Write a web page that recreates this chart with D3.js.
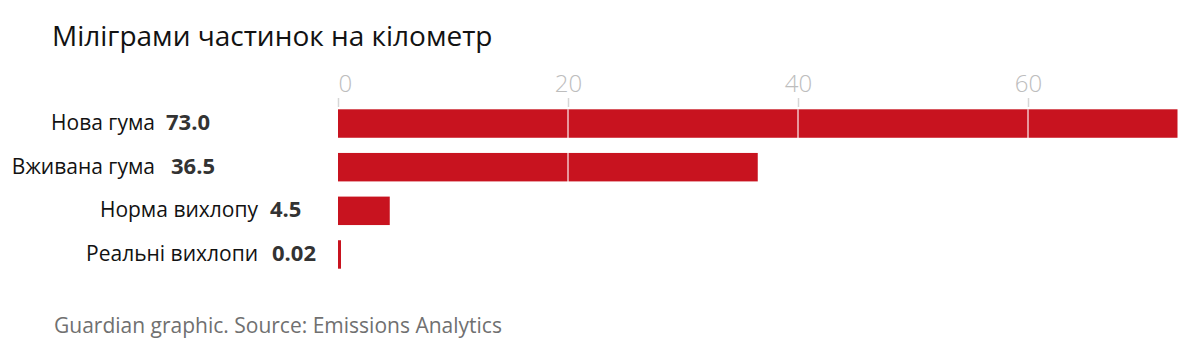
<!DOCTYPE html>
<html>
<head>
<meta charset="utf-8">
<script src="https://cdn.jsdelivr.net/npm/d3@7"></script>
<style>
  body { margin: 0; background: #fff; }
  svg { display: block; font-family: "Open Sans", sans-serif; }
</style>
</head>
<body>
<svg width="1200" height="352"></svg>
<script>
// data
var categories = ["Нова гума", "Вживана гума", "Норма вихлопу", "Реальні вихлопи"];
var values = [73.0, 36.5, 4.5, 0.02];
var valueLabels = ["73.0", "36.5", "4.5", "0.02"];
var tickValues = [0, 20, 40, 60];

// layout of the label column (right edge of each category name)
var labelRight = [155, 155, 258, 258];
var valueGap = [11, 16, 12, 14];

var svg = d3.select("svg"),
    width = +svg.attr("width"),
    height = +svg.attr("height");

var x = d3.scaleLinear()
    .domain([0, 73])
    .range([338, 1177.5]);

var y = d3.scaleBand()
    .domain(categories)
    .range([109.3, 268.7])
    .paddingInner(0.348)
    .paddingOuter(0);

// title
svg.append("text")
    .attr("x", 52)
    .attr("y", 46)
    .style("font-size", "28px")
    .style("fill", "#121212")
    .text("Міліграми частинок на кілометр");

// axis on top
var axis = svg.append("g")
    .attr("transform", "translate(0,107)")
    .call(d3.axisTop(x).tickValues(tickValues).tickSize(9).tickPadding(6));

axis.select(".domain").remove();
axis.selectAll(".tick line").attr("stroke", "#d6d6d6").attr("stroke-width", 1.5);
axis.selectAll(".tick text")
    .attr("fill", "#bdbdbd")
    .style("font-size", "24px")
    .style("font-family", "Open Sans, sans-serif")
    .style("font-weight", 300)
    .attr("dy", 0)
    .attr("y", -15)
    .attr("text-anchor", function (d) { return d === 0 ? "start" : "middle"; });

// bars
svg.append("g")
    .selectAll("rect")
    .data(values)
    .enter()
    .append("rect")
    .attr("x", x(0))
    .attr("y", function (d, i) { return y(categories[i]); })
    .attr("width", function (d) { return Math.max(x(d) - x(0), 3); })
    .attr("height", y.bandwidth())
    .attr("fill", "#c8131f");

// white gridlines over the bars
svg.append("g")
    .selectAll("line")
    .data(tickValues.filter(function (d) { return d > 0; }))
    .enter()
    .append("line")
    .attr("x1", function (d) { return x(d); })
    .attr("x2", function (d) { return x(d); })
    .attr("y1", y.range()[0])
    .attr("y2", y.range()[1])
    .attr("stroke", "#ffffff")
    .attr("stroke-opacity", 0.75)
    .attr("stroke-width", 1.5);

// category labels + values
var rows = svg.append("g")
    .selectAll("g")
    .data(categories)
    .enter()
    .append("g")
    .attr("transform", function (d) { return "translate(0," + (y(d) + y.bandwidth() / 2 + 6.5) + ")"; });

rows.append("text")
    .attr("x", function (d, i) { return labelRight[i]; })
    .attr("text-anchor", "end")
    .style("font-size", "21px")
    .style("fill", "#121212")
    .text(function (d) { return d; });

rows.append("text")
    .attr("x", function (d, i) { return labelRight[i] + valueGap[i]; })
    .style("font-size", "22px")
    .style("font-weight", 700)
    .style("fill", "#333333")
    .text(function (d, i) { return valueLabels[i]; });

// source
svg.append("text")
    .attr("x", 54)
    .attr("y", 333)
    .style("font-size", "21px")
    .style("fill", "#707070")
    .text("Guardian graphic. Source: Emissions Analytics");
</script>
</body>
</html>
